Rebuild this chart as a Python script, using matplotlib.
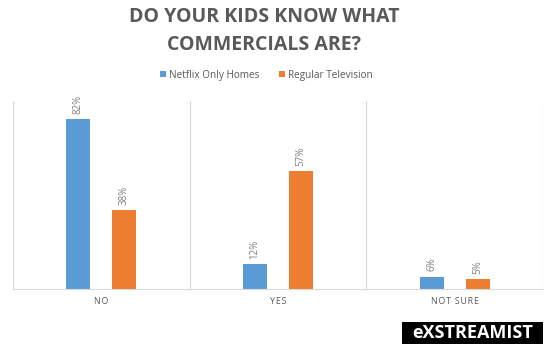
import matplotlib.pyplot as plt
import numpy as np
from matplotlib.patches import Rectangle

categories = ['NO', 'YES', 'NOT SURE']
netflix = [82, 12, 6]
regular = [38, 57, 5]
series_names = ['Netflix Only Homes', 'Regular Television']

blue = '#5B9BD5'
orange = '#ED7D31'
grey = '#595959'
line_c = '#D9D9D9'

fig = plt.figure(figsize=(5.52, 3.53), dpi=100)
ax = fig.add_axes([0.0236, 0.181, 0.96, 0.534])

x = np.arange(len(categories))
w = 0.136
b1 = ax.bar(x - 0.13, netflix, w, color=blue)
b2 = ax.bar(x + 0.13, regular, w, color=orange)

for bars, vals in [(b1, netflix), (b2, regular)]:
    for r, v in zip(bars, vals):
        ax.text(r.get_x() + r.get_width() / 2, v + 2.5, f'{v}%', rotation=90,
                ha='center', va='bottom', fontsize=7, color='#7F7F7F', family='Open Sans')

ax.set_xlim(-0.5, len(categories) - 0.5)
ax.set_ylim(0, 91)
for s in ['top', 'right', 'left']:
    ax.spines[s].set_visible(False)
ax.spines['bottom'].set_color(line_c)
for xv in np.arange(-0.5, len(categories), 1):
    ax.axvline(xv, color=line_c, lw=0.8)
ax.set_yticks([])
ax.set_xticks(x)
# spaced out caps like the original
ax.set_xticklabels(['\u200a'.join(c) for c in categories], fontsize=6.3, color=grey,
                   family='Open Sans')
ax.tick_params(axis='x', length=0, pad=6)

fig.text(0.478, 0.952, 'DO YOUR KIDS KNOW WHAT', ha='center', va='center', fontsize=14,
         fontweight='bold', color=grey, family='Open Sans')
fig.text(0.478, 0.873, 'COMMERCIALS ARE?', ha='center', va='center', fontsize=14,
         fontweight='bold', color=grey, family='Open Sans')

leg = fig.legend([b1, b2], series_names, loc='center', bbox_to_anchor=(0.482, 0.787), ncol=2,
                 frameon=False, handlelength=0.6, handleheight=0.6,
                 handletextpad=0.3, columnspacing=2.0, prop={'family': 'Open Sans', 'size': 7.2})
for t in leg.get_texts():
    t.set_color(grey)

# logo box
fig.patches.append(Rectangle((402 / 552, 1 - 344 / 353), 141 / 552, 22 / 353,
                             transform=fig.transFigure, fc='black', ec='none'))
fig.text(472.5 / 552, 1 - 333 / 353, 'eXSTREAMIST', ha='center', va='center', fontsize=13,
         fontweight='bold', color='white', family='Open Sans')

fig.savefig('out.png', dpi=100)
